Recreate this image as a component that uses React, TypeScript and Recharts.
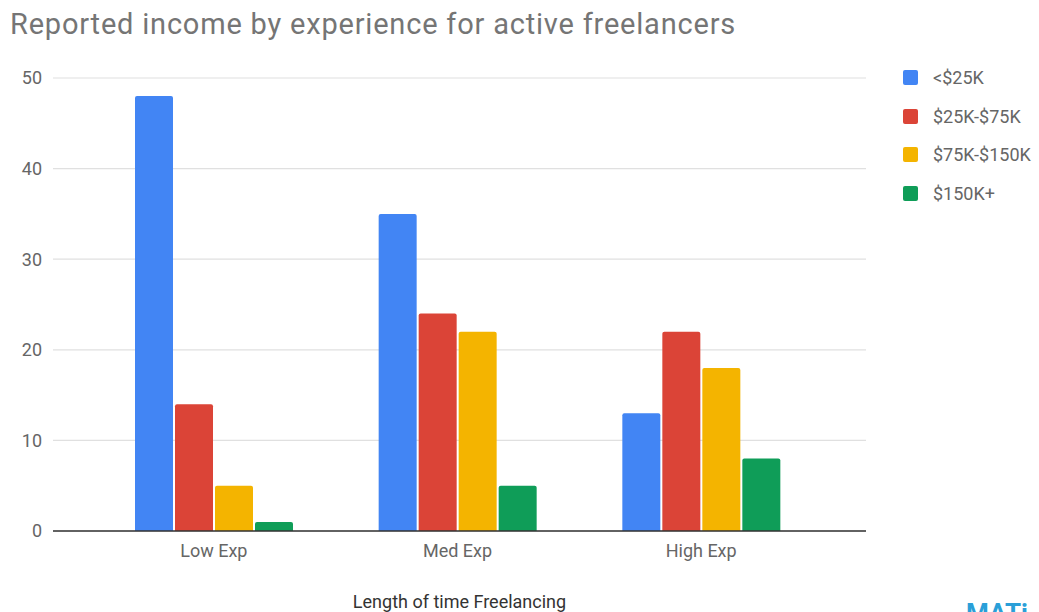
import React from "react";
import { BarChart, Bar, XAxis, YAxis, CartesianGrid } from "recharts";

const categories = ["Low Exp", "Med Exp", "High Exp"];
const under25k = [48, 35, 13];
const from25to75k = [14, 24, 22];
const from75to150k = [5, 22, 18];
const over150k = [1, 5, 8];
const yTicks = [0, 10, 20, 30, 40, 50];

const series = [
  { key: "a", name: "<$25K", color: "#4285F4", values: under25k },
  { key: "b", name: "$25K-$75K", color: "#DB4437", values: from25to75k },
  { key: "c", name: "$75K-$150K", color: "#F4B400", values: from75to150k },
  { key: "d", name: "$150K+", color: "#0F9D58", values: over150k },
];

const data = categories.map((cat, i) => {
  const row: Record<string, string | number> = { cat };
  series.forEach((s) => (row[s.key] = s.values[i]));
  return row;
});

const font = "Roboto, 'Noto Sans', sans-serif";

export default function App() {
  return (
    <div style={{ position: "absolute", left: 0, top: 0, width: 1039, height: 612, background: "#fff", overflow: "hidden" }}>
      <div style={{ position: "absolute", left: 10, top: 7, fontFamily: font, fontSize: 29, letterSpacing: 0.8, color: "#757575", whiteSpace: "nowrap" }}>
        Reported income by experience for active freelancers
      </div>

      {/* legend */}
      <div style={{ position: "absolute", left: 903, top: 58, fontFamily: font }}>
        {series.map((s) => (
          <div key={s.key} style={{ display: "flex", alignItems: "center", height: 38.7 }}>
            <div style={{ width: 15, height: 15, borderRadius: 2, background: s.color, marginRight: 15 }} />
            <span style={{ fontSize: 18, color: "#666" }}>{s.name}</span>
          </div>
        ))}
      </div>

      <BarChart
        width={1039}
        height={612}
        data={data}
        margin={{ top: 78, right: 173, bottom: 0, left: 0 }}
        barGap={2}
        barSize={38}
      >
        <CartesianGrid vertical={false} stroke="#e0e0e0" strokeWidth={1.2} />
        <XAxis
          dataKey="cat"
          height={81}
          padding={{ left: 39, right: 43 }}
          tickLine={false}
          tickMargin={7}
          axisLine={{ stroke: "#333", strokeWidth: 1.5 }}
          tick={{ fill: "#666", fontSize: 18, fontFamily: font }}
          label={{ value: "Length of time Freelancing", position: "insideBottom", offset: 4, fill: "#333", fontSize: 18, fontFamily: font }}
        />
        <YAxis
          width={53}
          domain={[0, 50]}
          ticks={yTicks}
          axisLine={false}
          tickLine={false}
          tickMargin={5}
          tick={{ fill: "#666", fontSize: 18, fontFamily: font }}
        />
        {series.map((s) => (
          <Bar key={s.key} dataKey={s.key} name={s.name} fill={s.color} radius={[2, 2, 0, 0]} isAnimationActive={false} />
        ))}
      </BarChart>

      <div style={{ position: "absolute", left: 966, top: 598, fontFamily: font, fontWeight: 700, fontSize: 26, color: "#2a9fd8", whiteSpace: "nowrap" }}>
        MATi
      </div>
    </div>
  );
}
